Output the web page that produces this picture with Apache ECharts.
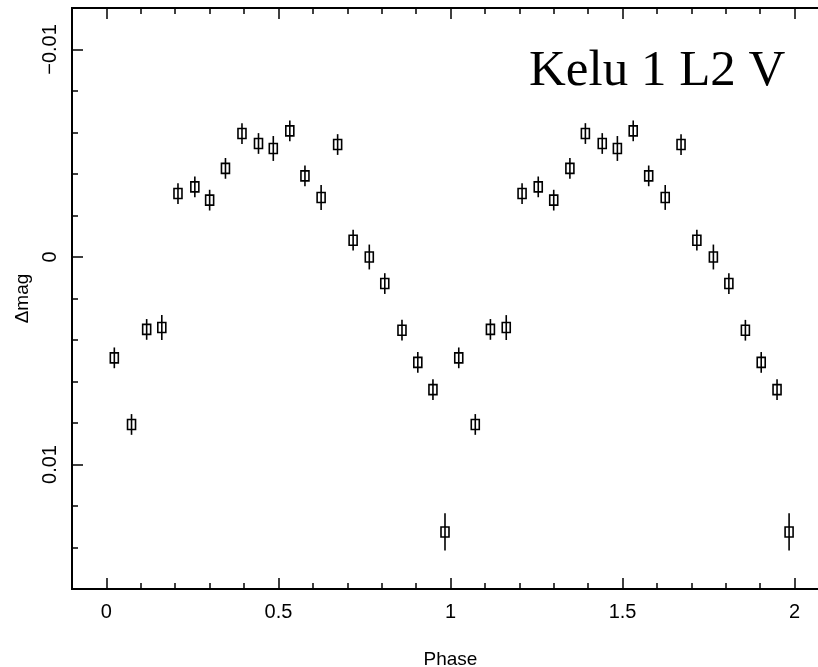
<!DOCTYPE html>
<html>
<head>
<meta charset="utf-8">
<script src="https://cdn.jsdelivr.net/npm/echarts@6/dist/echarts.min.js"></script>
<style>
html,body{margin:0;padding:0;background:#fff;}
#chart{width:818px;height:667px;}
</style>
</head>
<body>
<div id="chart"></div>
<script>
// ---- Data ----
const phaseCycle1 = [0.023,0.073,0.117,0.161,0.208,0.257,0.300,0.346,0.394,0.442,0.485,0.533,0.577,0.624,0.672,0.717,0.764,0.809,0.859,0.905,0.949,0.984];
const magCycle1   = [0.00486,0.00807,0.00349,0.00340,-0.00306,-0.00338,-0.00274,-0.00427,-0.00595,-0.00547,-0.00523,-0.00608,-0.00391,-0.00287,-0.00542,-0.00081,0.00000,0.00128,0.00353,0.00508,0.00639,0.01325];
const errCycle1   = [0.0005,0.0005,0.0005,0.0006,0.0005,0.0005,0.0005,0.0005,0.0005,0.0005,0.0006,0.0005,0.0005,0.0006,0.0005,0.0005,0.0006,0.0005,0.0005,0.0005,0.0005,0.0009];
const phaseCycle2 = [1.024,1.072,1.116,1.162,1.208,1.255,1.300,1.347,1.392,1.441,1.485,1.531,1.576,1.624,1.670,1.716,1.764,1.809,1.857,1.903,1.949,1.984];
const magCycle2   = [0.00486,0.00807,0.00349,0.00340,-0.00306,-0.00338,-0.00274,-0.00427,-0.00595,-0.00547,-0.00523,-0.00608,-0.00391,-0.00287,-0.00542,-0.00081,0.00000,0.00128,0.00353,0.00508,0.00639,0.01325];
const errCycle2   = [0.0005,0.0005,0.0005,0.0006,0.0005,0.0005,0.0005,0.0005,0.0005,0.0005,0.0006,0.0005,0.0005,0.0006,0.0005,0.0005,0.0006,0.0005,0.0005,0.0005,0.0005,0.0009];

const xMajorTicks = [0, 0.5, 1, 1.5, 2];
const xTickLabels = ['0', '0.5', '1', '1.5', '2'];
const yMajorTicks = [-0.01, 0, 0.01];
const yTickLabels = ['\u22120.01', '0', '0.01'];
const titleText = 'Kelu 1 L2 V';
const xName = 'Phase';
const yName = '\u0394mag';

// ---- Build ----
const points = [];
phaseCycle1.forEach((p, i) => points.push([p, magCycle1[i], errCycle1[i]]));
phaseCycle2.forEach((p, i) => points.push([p, magCycle2[i], errCycle2[i]]));

const X_MIN = -0.1, X_MAX = 2.1, Y_MIN = -0.012, Y_MAX = 0.016;
const labelFont = { fontFamily: 'Liberation Sans', fontSize: 20, color: '#000' };

function xLabelFmt(v) {
  const i = xMajorTicks.findIndex(t => Math.abs(t - v) < 1e-9);
  return i >= 0 ? xTickLabels[i] : '';
}
function yLabelFmt(v) {
  const i = yMajorTicks.findIndex(t => Math.abs(t - v) < 1e-9);
  return i >= 0 ? yTickLabels[i] : '';
}

function xAxisDef(pos, major, withLabels) {
  const a = {
    type: 'value', position: pos, min: X_MIN, max: X_MAX,
    axisLine: { show: true, onZero: false, lineStyle: { color: '#000', width: 2 } },
    splitLine: { show: false },
    axisTick: { show: true, inside: true, length: major ? 11 : 6, lineStyle: { color: '#000', width: 1.5 } },
    axisLabel: { show: false }
  };
  if (major) {
    a.axisTick.customValues = xMajorTicks;
    if (withLabels) {
      a.axisLabel = Object.assign({ show: true, customValues: xMajorTicks, formatter: xLabelFmt, margin: 13 }, labelFont);
      a.name = xName; a.nameLocation = 'middle'; a.nameGap = 61;
      a.nameTextStyle = { fontFamily: 'Liberation Sans', fontSize: 19, color: '#000' };
    }
  } else {
    a.interval = 0.1;
  }
  return a;
}
function yAxisDef(pos, major, withLabels) {
  const a = {
    type: 'value', position: pos, min: Y_MIN, max: Y_MAX, inverse: true,
    axisLine: { show: true, onZero: false, lineStyle: { color: '#000', width: 2 } },
    splitLine: { show: false },
    axisTick: { show: true, inside: true, length: major ? 11 : 6, lineStyle: { color: '#000', width: 1.5 } },
    axisLabel: { show: false }
  };
  if (major) {
    a.axisTick.customValues = yMajorTicks;
    if (withLabels) {
      a.axisLabel = Object.assign({ show: true, customValues: yMajorTicks, formatter: yLabelFmt, rotate: 90, margin: 12 }, labelFont);
      a.name = yName; a.nameLocation = 'middle'; a.nameGap = 36;
      a.nameTextStyle = { fontFamily: 'Liberation Sans', fontSize: 19, color: '#000' };
    }
  } else {
    a.interval = 0.002;
  }
  return a;
}

const chart = echarts.init(document.getElementById('chart'), null, { renderer: 'canvas' });
chart.setOption({
  animation: false,
  backgroundColor: '#fff',
  grid: { left: 72, top: 8, right: -11, bottom: 78, containLabel: false, outerBoundsMode: 'none' },
  xAxis: [xAxisDef('bottom', false, false), xAxisDef('bottom', true, true), xAxisDef('top', false, false), xAxisDef('top', true, false)],
  yAxis: [yAxisDef('left', false, false), yAxisDef('left', true, true), yAxisDef('right', false, false), yAxisDef('right', true, false)],
  graphic: [{
    type: 'text', left: 529, top: 46,
    style: { text: titleText, font: '51px "Liberation Serif"', fill: '#000' }
  }],
  series: [{
    type: 'custom',
    xAxisIndex: 0, yAxisIndex: 0,
    data: points,
    renderItem: function (params, api) {
      const x = api.value(0), y = api.value(1), e = api.value(2);
      const c = api.coord([x, y]);
      const top = api.coord([x, y - e]);
      const bot = api.coord([x, y + e]);
      const w = 8, h = 10;
      return {
        type: 'group',
        children: [
          { type: 'line', shape: { x1: c[0], y1: top[1], x2: c[0], y2: bot[1] }, style: { stroke: '#000', lineWidth: 1.6 } },
          { type: 'rect', shape: { x: c[0] - w / 2, y: c[1] - h / 2, width: w, height: h }, style: { fill: 'none', stroke: '#000', lineWidth: 1.6 } }
        ]
      };
    }
  }]
});
</script>
</body>
</html>
